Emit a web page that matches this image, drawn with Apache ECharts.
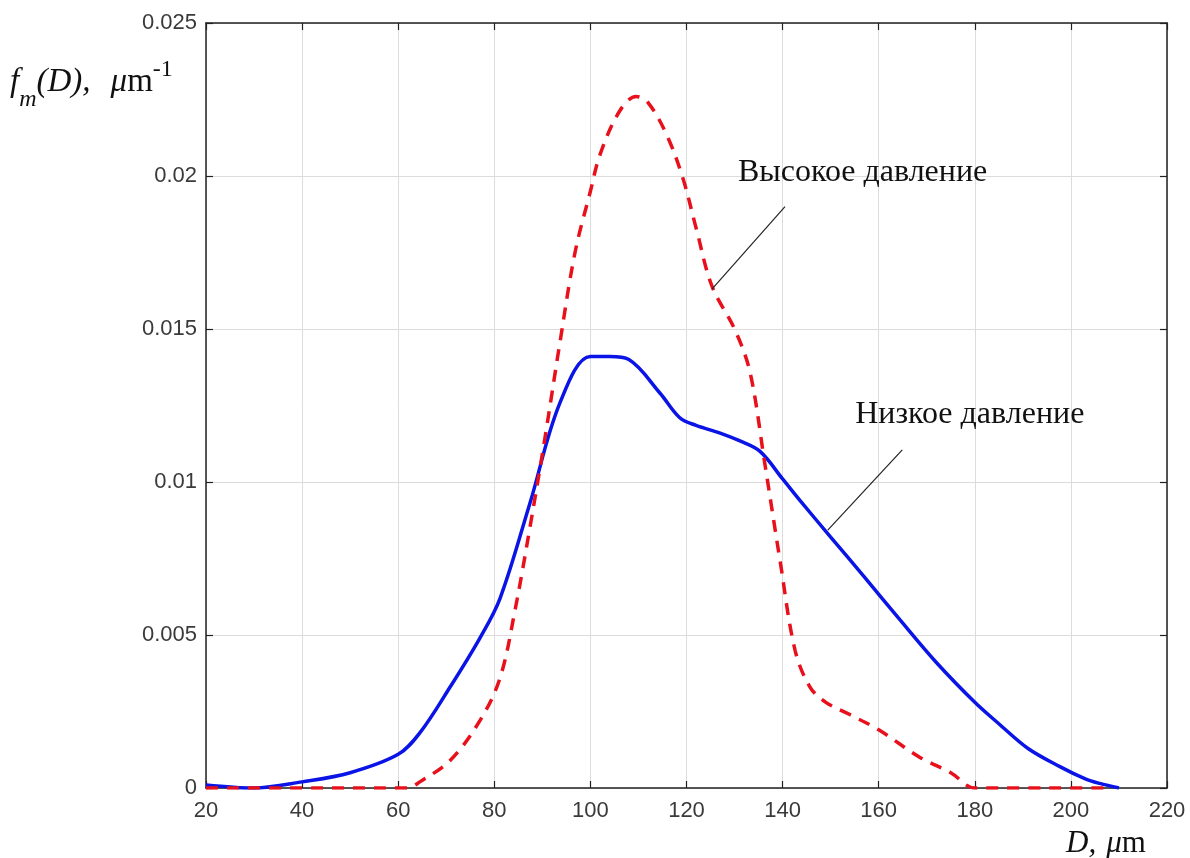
<!DOCTYPE html>
<html>
<head>
<meta charset="utf-8">
<script src="https://cdn.jsdelivr.net/npm/echarts@6/dist/echarts.min.js"></script>
<style>
  html, body { margin: 0; padding: 0; background: #fff; }
  #chart { width: 1190px; height: 858px; }
</style>
</head>
<body>
<div id="chart"></div>
<script>
// Size distribution f_m(D) for two pressure regimes
const lowD = [20, 30, 40, 50, 60, 64.5, 70.8, 77, 81.2, 87.4, 93.7, 100, 104, 108, 114.5, 118.6, 122, 127, 131, 135.3, 140, 143.6, 150, 157, 164.4, 172, 180, 185, 191, 197.7, 203, 206, 210];
const lowF = [0.0001, 0.0, 0.0002, 0.0005, 0.0011, 0.0018, 0.0033, 0.0049, 0.0062, 0.0093, 0.0126, 0.0141, 0.01410, 0.0140, 0.0129, 0.0121, 0.01185, 0.0116, 0.01135, 0.0110, 0.0101, 0.0094, 0.0082, 0.0069, 0.0055, 0.0041, 0.0028, 0.0021, 0.0013, 0.0007, 0.0003, 0.00015, 0.0];

const highD = [20, 40, 60, 62, 64.5, 70.8, 77, 81.2, 84.3, 87.4, 90.5, 93.7, 96.8, 100, 102, 106, 109.5, 112, 116, 119.3, 122, 125.3, 130, 133.2, 136.3, 139.5, 142.6, 145.7, 149, 154, 160, 168.6, 175, 180, 190, 200, 208];
const highF = [0.0, 0.0, 0.0, 0.0, 0.0002, 0.0009, 0.0022, 0.0036, 0.0058, 0.0085, 0.0114, 0.0146, 0.0175, 0.0195, 0.0207, 0.0221, 0.0226, 0.0224, 0.0213, 0.0199, 0.0183, 0.0164, 0.0150, 0.0136, 0.0106, 0.0074, 0.0045, 0.0033, 0.0028, 0.0024, 0.0019, 0.0010, 0.0005, 0.0, 0.0, 0.0, 0.0];

const seriesNames = ['Высокое давление', 'Низкое давление'];

// Leader lines: [from point on curve, to point near label]
const highLeader = [[125.3, 0.0163], [140.5, 0.0190]];
const lowLeader = [[149.4, 0.00843], [164.9, 0.01105]];
// Label anchors (left edge, vertical middle)
const highLabelAt = [130.7, 0.0201];
const lowLabelAt = [155.1, 0.0122];

const xTicks = { min: 20, max: 220, interval: 20 };
const yTicks = { min: 0, max: 0.025, interval: 0.005 };

const pairs = (xs, ys) => xs.map((x, i) => [x, ys[i]]);

const chart = echarts.init(document.getElementById('chart'));
const tickFont = { fontFamily: 'Liberation Sans, Arial, sans-serif', fontSize: 22, color: '#3a3a3a' };
const frameLine = { show: true, onZero: false, lineStyle: { color: '#222', width: 1.5 } };
const inTick = { show: true, inside: true, length: 7, lineStyle: { color: '#222', width: 1.2 } };
const grid = { show: true, lineStyle: { color: '#dcdcdc', width: 1 } };

chart.setOption({
  animation: false,
  grid: { left: 206, right: 23, top: 23, bottom: 70 },
  xAxis: [
    {
      type: 'value', position: 'bottom', min: xTicks.min, max: xTicks.max, interval: xTicks.interval,
      axisLine: frameLine, axisTick: inTick,
      axisLabel: Object.assign({ margin: 12 }, tickFont),
      splitLine: grid
    },
    {
      type: 'value', position: 'top', min: xTicks.min, max: xTicks.max, interval: xTicks.interval,
      axisLine: frameLine, axisTick: inTick, axisLabel: { show: false }, splitLine: { show: false }
    }
  ],
  yAxis: [
    {
      type: 'value', position: 'left', min: yTicks.min, max: yTicks.max, interval: yTicks.interval,
      axisLine: frameLine, axisTick: inTick,
      axisLabel: Object.assign({ margin: 9 }, tickFont),
      splitLine: grid
    },
    {
      type: 'value', position: 'right', min: yTicks.min, max: yTicks.max, interval: yTicks.interval,
      axisLine: frameLine, axisTick: inTick, axisLabel: { show: false }, splitLine: { show: false }
    }
  ],
  series: [
    {
      name: seriesNames[1], type: 'line', data: pairs(lowD, lowF),
      smooth: 0.35, symbol: 'none', z: 3,
      lineStyle: { color: '#0a14e6', width: 3.5 },
      markLine: {
        silent: true, symbol: 'none', label: { show: false },
        lineStyle: { color: '#222', width: 1.2, type: 'solid' },
        data: [[{ coord: lowLeader[0] }, { coord: lowLeader[1] }]]
      }
    },
    {
      name: seriesNames[0], type: 'line', data: pairs(highD, highF),
      smooth: 0.35, symbol: 'none', z: 4,
      lineStyle: { color: '#e8101a', width: 3.5, type: [12, 9] },
      markLine: {
        silent: true, symbol: 'none', label: { show: false },
        lineStyle: { color: '#222', width: 1.2, type: 'solid' },
        data: [[{ coord: highLeader[0] }, { coord: highLeader[1] }]]
      }
    }
  ]
});

// Curve labels, axis names placed from data coordinates
const hp = chart.convertToPixel({ gridIndex: 0 }, highLabelAt);
const lp = chart.convertToPixel({ gridIndex: 0 }, lowLabelAt);
const serif = 'Liberation Serif, Times New Roman, serif';

chart.setOption({
  graphic: [
    { type: 'text', x: hp[0], y: hp[1], style: { text: seriesNames[0], font: '32px ' + serif, fill: '#111', verticalAlign: 'middle' } },
    { type: 'text', x: lp[0], y: lp[1], style: { text: seriesNames[1], font: '32px ' + serif, fill: '#111', verticalAlign: 'middle' } },
    {
      type: 'text', x: 10, y: 58,
      style: {
        text: '{f|f}{sub|m}{f|(D),}{sp| }{mu|μ}{m|m}{sup|-1}',
        rich: {
          f: { font: 'italic 33px ' + serif, fill: '#111', verticalAlign: 'bottom' },
          sub: { font: 'italic 24px ' + serif, fill: '#111', padding: [0, 0, -13, 0], verticalAlign: 'bottom' },
          sp: { font: '33px ' + serif, width: 20 },
          mu: { font: 'italic 33px ' + serif, fill: '#111', verticalAlign: 'bottom' },
          m: { font: '33px ' + serif, fill: '#111', verticalAlign: 'bottom' },
          sup: { font: '24px ' + serif, fill: '#111', padding: [0, 0, 17, 0], verticalAlign: 'bottom' }
        }
      }
    },
    {
      type: 'text', x: 1066, y: 828,
      style: {
        text: '{d|D,}{sp| }{mu|μ}{m|m}',
        rich: {
          d: { font: 'italic 31px ' + serif, fill: '#111' },
          sp: { font: '31px ' + serif, width: 10 },
          mu: { font: 'italic 31px ' + serif, fill: '#111' },
          m: { font: '31px ' + serif, fill: '#111' }
        }
      }
    }
  ]
});
</script>
</body>
</html>
